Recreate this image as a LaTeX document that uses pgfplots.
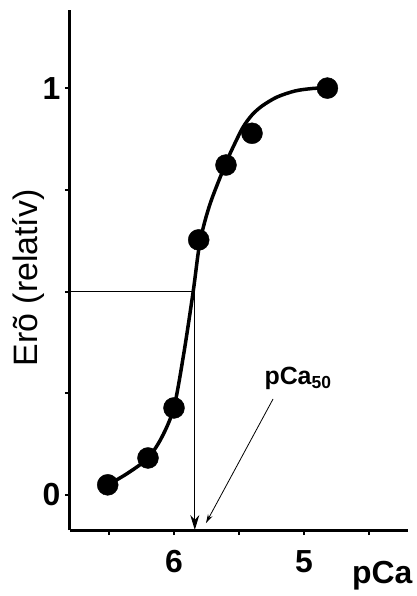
\documentclass[border=0pt]{standalone}
\usepackage{fontspec}
\setmainfont{Liberation Sans}
\usepackage{pgfplots}
\pgfplotsset{compat=1.18}
\usetikzlibrary{arrows.meta}

\begin{document}
\begin{tikzpicture}
\begin{axis}[
    name=ax,
    scale only axis,
    width=338bp, height=520bp,
    x dir=reverse,
    xmin=4.2, xmax=6.8,
    ymin=-0.086, ymax=1.192,
    axis x line=bottom, axis y line=left,
    axis line style={line width=3bp, -},
    tick align=outside,
    tick style={line width=2bp, black},
    major tick length=5bp, minor tick length=5bp,
    xtick={6,5}, xticklabels={6,5},
    minor xtick={6.5,5.5,4.5},
    ytick={0,1}, yticklabels={0,1},
    minor ytick={0.25,0.5,0.75},
    ticklabel style={font=\fontsize{32}{36}\selectfont\bfseries},
    xticklabel style={yshift=-12bp},
    yticklabel style={xshift=-1bp},
    xlabel={pCa},
    xlabel style={font=\fontsize{32}{36}\selectfont\bfseries, at={(axis description cs:1,0)}, anchor=north east, yshift=-28bp, xshift=8bp},
    ylabel={Erõ (relatív)},
    ylabel style={font=\fontsize{34}{38}\selectfont, at={(axis description cs:-0.124,0.485)}, anchor=center},
    clip=false,
  ]
  % fitted curve
  \addplot[black, line width=3.5bp, smooth, tension=0.5, no marks] table {
    x y
    6.508 0.025
    6.354 0.054
    6.200 0.091
    6.092 0.143
    6.000 0.216
    5.923 0.351
    5.852 0.501
    5.800 0.622
    5.723 0.715
    5.600 0.816
    5.538 0.860
    5.469 0.904
    5.400 0.934
    5.323 0.956
    5.208 0.978
    5.069 0.993
    4.938 0.999
    4.823 1.001
  };
  % measured points
  \addplot[only marks, mark=*, mark size=10.5bp, black] table {
    x y
    6.51 0.025
    6.20 0.091
    6.00 0.214
    5.81 0.627
    5.60 0.811
    5.40 0.889
    4.82 1.000
  };
  \draw[line width=1bp] (axis cs:6.8,0.5) -- (axis cs:5.84,0.5);
  \draw[line width=1.2bp, -{Stealth[length=15bp, width=9bp]}] (axis cs:5.84,0.5) -- (axis cs:5.84,-0.086);
  \draw[line width=0.8bp, -{Stealth[length=9bp, width=5bp]}] (axis cs:5.238,0.236) -- (axis cs:5.754,-0.069);
  \node[font=\fontsize{25}{30}\selectfont\bfseries] at (axis cs:5.046,0.287) {pCa\textsubscript{50}};
\end{axis}
\pgfresetboundingbox
\path (ax.south west) ++(-70bp,-66bp) rectangle ++(417bp,596bp);
\end{tikzpicture}
\end{document}
